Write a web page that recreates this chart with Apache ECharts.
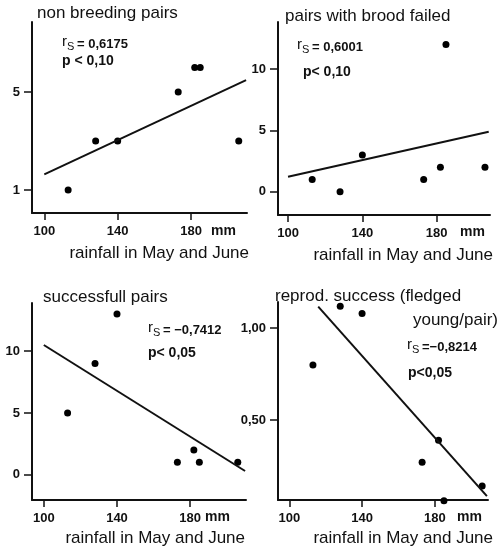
<!DOCTYPE html>
<html>
<head>
<meta charset="utf-8">
<script src="https://cdn.jsdelivr.net/npm/echarts@6/dist/echarts.min.js"></script>
<style>
  html, body { margin: 0; padding: 0; background: #fff; }
  #chart { width: 501px; height: 549px; }
</style>
</head>
<body>
<div id="chart"></div>
<script>
// rainfall in May and June (mm), same years in all four panels
const rainfall = [113, 128, 140, 173, 182, 185, 206];
const nonBreeding = [1, 3, 3, 5, 6, 6, 3];
const broodFailed = [1, 0, 3, 1, 2, 12, 2];
const successful = [5, 9, 13, 1, 2, 1, 1];
const reprodSuccess = [0.80, 1.12, 1.08, 0.27, 0.39, 0.06, 0.14];

// regression lines (end points)
const trend1 = [[100, 1.64], [210, 5.49]];
const trend2 = [[100, 1.22], [208, 4.89]];
const trend3 = [[100, 10.5], [210, 0.3]];
const trend4 = [[115.9, 1.118], [208.6, 0.085]];

const xTicks = [100, 140, 180];
const yTicks1 = [1, 5];
const yTicks2 = [0, 5, 10];
const yTicks3 = [0, 5, 10];
const yTicks4 = [0.5, 1.0];

const FONT = '"Liberation Sans", Arial, sans-serif';
const INK = '#111';

const chart = echarts.init(document.getElementById('chart'));

function xAxisOf(gi, min, max) {
  return {
    type: 'value', gridIndex: gi, min: min, max: max,
    axisLine: { show: true, onZero: false, lineStyle: { color: INK, width: 2 } },
    axisTick: { show: true, customValues: xTicks, length: 7, lineStyle: { color: INK, width: 1.5 } },
    axisLabel: { customValues: xTicks, margin: 12, color: INK, fontSize: 13, fontWeight: 'bold', fontFamily: FONT },
    splitLine: { show: false }
  };
}

function yAxisOf(gi, min, max, ticks, fmt) {
  return {
    type: 'value', gridIndex: gi, min: min, max: max,
    axisLine: { show: true, onZero: false, lineStyle: { color: INK, width: 2 } },
    axisTick: { show: true, customValues: ticks, length: 8, lineStyle: { color: INK, width: 1.5 } },
    axisLabel: { customValues: ticks, margin: 12, color: INK, fontSize: 13, fontWeight: 'bold', fontFamily: FONT,
      formatter: fmt || (v => String(v)) },
    splitLine: { show: false }
  };
}

function dots(gi, vals) {
  return {
    type: 'scatter', xAxisIndex: gi, yAxisIndex: gi,
    data: rainfall.map((x, i) => [x, vals[i]]),
    symbolSize: 7, itemStyle: { color: '#000', opacity: 1 }, clip: false
  };
}

function trend(gi, pts) {
  return {
    type: 'line', xAxisIndex: gi, yAxisIndex: gi, data: pts,
    symbol: 'none', lineStyle: { color: INK, width: 2 }, clip: false
  };
}

function txt(x, y, s, size, bold, align) {
  return {
    type: 'text', x: x, y: y, silent: true,
    style: { text: s, fill: INK, font: (bold ? 'bold ' : '') + size + 'px ' + FONT,
      align: align || 'left', verticalAlign: 'middle' }
  };
}

// r_S = value, with subscript S
function stat(x, y, rest) {
  return [
    txt(x, y - 1, 'r', 15, false),
    txt(x + 5, y + 4, 'S', 11, false),
    txt(x + 15, y + 1, rest, 13, true)
  ];
}

const graphics = [
  txt(37, 13, 'non breeding pairs', 17),
  txt(285, 16, 'pairs with brood failed', 17),
  txt(43, 297, 'successfull pairs', 17),
  txt(275, 296, 'reprod. success (fledged', 17),
  txt(498, 320, 'young/pair)', 17, false, 'right'),

  txt(249, 253, 'rainfall in May and June', 17, false, 'right'),
  txt(493, 255, 'rainfall in May and June', 17, false, 'right'),
  txt(245, 538, 'rainfall in May and June', 17, false, 'right'),
  txt(493, 538, 'rainfall in May and June', 17, false, 'right'),

  txt(211, 231, 'mm', 14, true),
  txt(460, 232, 'mm', 14, true),
  txt(205, 517, 'mm', 14, true),
  txt(457, 517, 'mm', 14, true),

  ...stat(62, 43, '= 0,6175'),
  txt(62, 61, 'p < 0,10', 14, true),
  ...stat(297, 46, '= 0,6001'),
  txt(303, 72, 'p< 0,10', 14, true),
  ...stat(148, 329, '= \u22120,7412'),
  txt(148, 353, 'p< 0,05', 14, true),
  ...stat(407, 346, '=\u22120,8214'),
  txt(408, 373, 'p<0,05', 14, true)
];

chart.setOption({
  animation: false,
  backgroundColor: '#fff',
  grid: [
    { left: 32, top: 22, width: 215, height: 191 },
    { left: 278, top: 22, width: 212, height: 193 },
    { left: 32, top: 303, width: 214, height: 197 },
    { left: 278, top: 302, width: 210, height: 198 }
  ],
  xAxis: [
    xAxisOf(0, 93.3, 210.5),
    xAxisOf(1, 94.6, 208.7),
    xAxisOf(2, 93.55, 210.5),
    xAxisOf(3, 93.8, 209.2)
  ],
  yAxis: [
    yAxisOf(0, 0.06, 7.86, yTicks1),
    yAxisOf(1, -1.9, 13.83, yTicks2),
    yAxisOf(2, -2.05, 13.9, yTicks3),
    yAxisOf(3, 0.064, 1.143, yTicks4, v => v.toFixed(2).replace('.', ','))
  ],
  series: [
    dots(0, nonBreeding), trend(0, trend1),
    dots(1, broodFailed), trend(1, trend2),
    dots(2, successful), trend(2, trend3),
    dots(3, reprodSuccess), trend(3, trend4)
  ],
  graphic: graphics
});
</script>
</body>
</html>
